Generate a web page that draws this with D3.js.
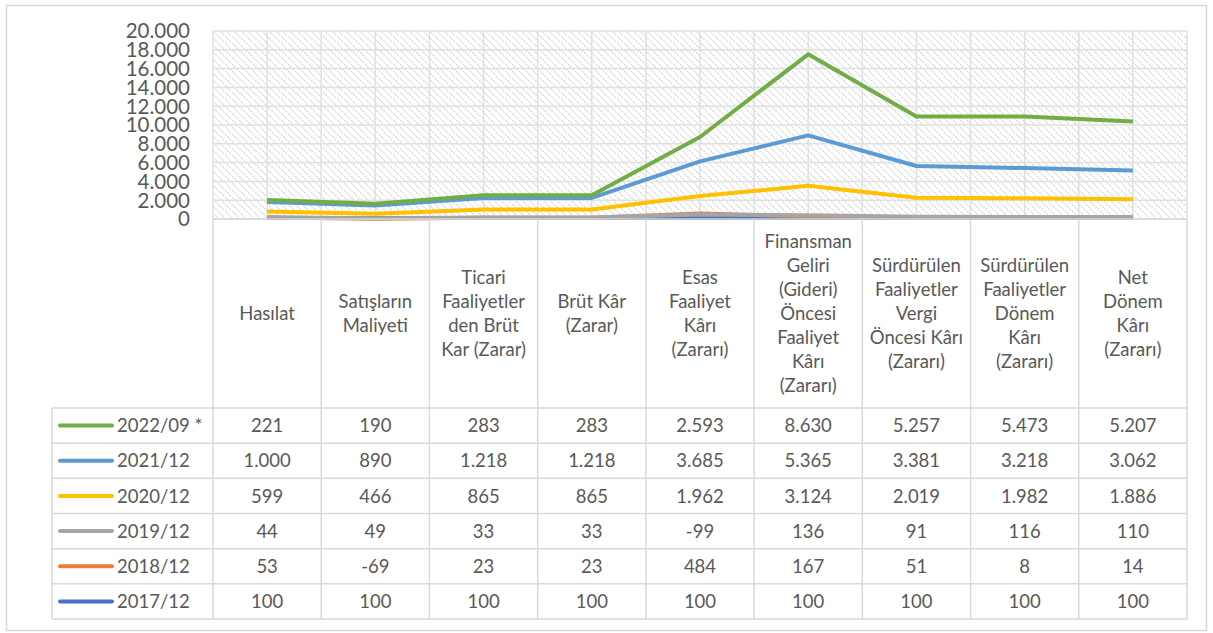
<!DOCTYPE html>
<html>
<head>
<meta charset="utf-8">
<script src="https://cdn.jsdelivr.net/npm/d3@7"></script>
<style>
  body { margin: 0; background: #fff; }
  svg text { font-family: Lato, "Open Sans", sans-serif; fill: #595959; }
</style>
</head>
<body>
<svg width="1213" height="633"></svg>
<script>
// categories (table header, line-wrapped as in the original)
const categories = [
  ["Hasılat"],
  ["Satışların", "Maliyeti"],
  ["Ticari", "Faaliyetler", "den Brüt", "Kar (Zarar)"],
  ["Brüt Kâr", "(Zarar)"],
  ["Esas", "Faaliyet", "Kârı", "(Zararı)"],
  ["Finansman", "Geliri", "(Gideri)", "Öncesi", "Faaliyet", "Kârı", "(Zararı)"],
  ["Sürdürülen", "Faaliyetler", "Vergi", "Öncesi Kârı", "(Zararı)"],
  ["Sürdürülen", "Faaliyetler", "Dönem", "Kârı", "(Zararı)"],
  ["Net", "Dönem", "Kârı", "(Zararı)"]
];

// series in stacking order (first = bottom)
const seriesNames = ["2017/12", "2018/12", "2019/12", "2020/12", "2021/12", "2022/09 *"];
const seriesColors = ["#4472C4", "#ED7D31", "#A5A5A5", "#FFC000", "#5B9BD5", "#70AD47"];

const v2017 = [100, 100, 100, 100, 100, 100, 100, 100, 100];
const v2018 = [53, -69, 23, 23, 484, 167, 51, 8, 14];
const v2019 = [44, 49, 33, 33, -99, 136, 91, 116, 110];
const v2020 = [599, 466, 865, 865, 1962, 3124, 2019, 1982, 1886];
const v2021 = [1000, 890, 1218, 1218, 3685, 5365, 3381, 3218, 3062];
const v2022 = [221, 190, 283, 283, 2593, 8630, 5257, 5473, 5207];
const seriesValues = [v2017, v2018, v2019, v2020, v2021, v2022];

const yTicks = [0, 2000, 4000, 6000, 8000, 10000, 12000, 14000, 16000, 18000, 20000];

const svg = d3.select("svg");
const fmt = v => d3.format(",")(v).replace(/,/g, ".").replace("\u2212", "-");

// outer frame
svg.append("rect").attr("x", 6.5).attr("y", 5.5).attr("width", 1200).attr("height", 625)
  .attr("fill", "#fff").attr("stroke", "#d9d9d9").attr("stroke-width", 1.5);

const plotLeft = 213, plotRight = 1187, plotTop = 31, plotBottom = 219;
const headerBottom = 408, tableBottom = 619, legendLeft = 52;

const x = d3.scaleBand().domain(d3.range(categories.length)).range([plotLeft, plotRight]);
const y = d3.scaleLinear().domain([0, 20000]).range([plotBottom, plotTop]);

// hatch pattern
const defs = svg.append("defs");
const pat = defs.append("pattern").attr("id", "hatch").attr("patternUnits", "userSpaceOnUse")
  .attr("width", 7).attr("height", 7);
pat.append("path").attr("d", "M-1,-1 L8,8 M-8,-1 L1,8 M6,-1 L15,8")
  .attr("stroke", "#d3d3d3").attr("stroke-width", 1.1).attr("stroke-dasharray", "2,1");

svg.append("rect").attr("x", plotLeft).attr("y", plotTop)
  .attr("width", plotRight - plotLeft).attr("height", plotBottom - plotTop).attr("fill", "url(#hatch)");

// gridlines
const grid = svg.append("g").attr("stroke", "#e0e0e0").attr("stroke-width", 1.5);
grid.selectAll(".h").data(yTicks).join("line")
  .attr("x1", plotLeft).attr("x2", plotRight)
  .attr("y1", d => y(d)).attr("y2", d => y(d));
const vlines = [];
categories.forEach((c, i) => { vlines.push(x(i)); vlines.push(x(i) + x.bandwidth() / 2); });
vlines.push(plotRight);
grid.selectAll(".v").data(vlines).join("line")
  .attr("x1", d => d).attr("x2", d => d).attr("y1", plotTop).attr("y2", plotBottom);

// y axis labels
svg.append("g").selectAll("text").data(yTicks).join("text")
  .attr("x", 190).attr("y", d => y(d)).attr("dy", "0.36em")
  .attr("text-anchor", "end").attr("font-size", 20.5)
  .text(d => fmt(d));

// stacked lines
const rows = categories.map((c, i) => {
  const o = {};
  seriesNames.forEach((s, k) => o[s] = seriesValues[k][i]);
  return o;
});
const stacked = d3.stack().keys(seriesNames).offset(d3.stackOffsetNone)(rows);
const line = d3.line().x((d, i) => x(i) + x.bandwidth() / 2).y(d => y(d[1]));
svg.append("g").selectAll("path").data(stacked).join("path")
  .attr("d", d => line(d))
  .attr("fill", "none")
  .attr("stroke", (d, k) => seriesColors[k])
  .attr("stroke-width", 4)
  .attr("stroke-linejoin", "round");

// data table
const tbl = svg.append("g").attr("stroke", "#d9d9d9").attr("stroke-width", 1.5);
const displayOrder = d3.range(seriesNames.length).reverse();
const rowH = (tableBottom - headerBottom) / displayOrder.length;
tbl.append("line").attr("x1", plotLeft).attr("x2", plotRight).attr("y1", plotBottom).attr("y2", plotBottom);
d3.range(displayOrder.length + 1).forEach(r => {
  tbl.append("line").attr("x1", legendLeft).attr("x2", plotRight)
    .attr("y1", headerBottom + r * rowH).attr("y2", headerBottom + r * rowH);
});
tbl.append("line").attr("x1", legendLeft).attr("x2", legendLeft).attr("y1", headerBottom).attr("y2", tableBottom);
categories.forEach((c, i) => {
  tbl.append("line").attr("x1", x(i)).attr("x2", x(i)).attr("y1", plotBottom).attr("y2", tableBottom);
});
tbl.append("line").attr("x1", plotRight).attr("x2", plotRight).attr("y1", plotBottom).attr("y2", tableBottom);

// header texts
const headerMid = (plotBottom + headerBottom) / 2;
const lh = 24;
svg.append("g").selectAll("text").data(categories).join("text")
  .attr("text-anchor", "middle").attr("font-size", 18.5)
  .each(function (lines, i) {
    const t = d3.select(this);
    const y0 = headerMid - (lines.length - 1) * lh / 2;
    lines.forEach((s, j) => {
      t.append("tspan").attr("x", x(i) + x.bandwidth() / 2).attr("y", y0 + j * lh).attr("dy", "0.36em").text(s);
    });
  });

// rows
displayOrder.forEach((k, r) => {
  const cy = headerBottom + r * rowH + rowH / 2;
  svg.append("line").attr("x1", 60).attr("x2", 112).attr("y1", cy).attr("y2", cy)
    .attr("stroke", seriesColors[k]).attr("stroke-width", 4).attr("stroke-linecap", "round");
  svg.append("text").attr("x", 117).attr("y", cy).attr("dy", "0.36em")
    .attr("font-size", 18.5).text(seriesNames[k]);
  svg.append("g").selectAll("text").data(seriesValues[k]).join("text")
    .attr("x", (d, i) => x(i) + x.bandwidth() / 2).attr("y", cy).attr("dy", "0.36em")
    .attr("text-anchor", "middle").attr("font-size", 18.5)
    .text(d => fmt(d));
});
</script>
</body>
</html>
